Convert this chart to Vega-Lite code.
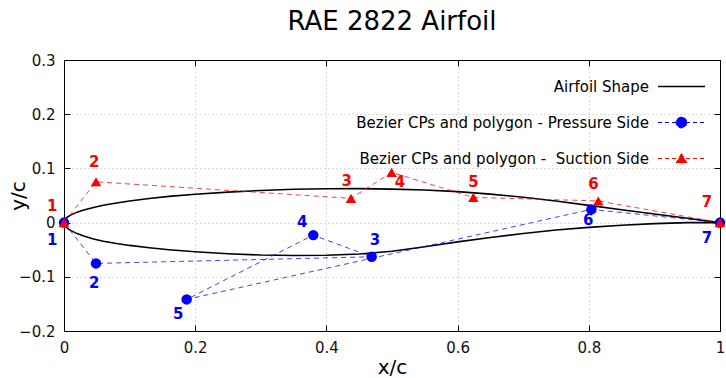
{
  "$schema": "https://vega.github.io/schema/vega-lite/v6.json",
  "width": 656,
  "height": 271,
  "autosize": {"type": "none"},
  "padding": {"left": 64, "top": 60, "right": 6, "bottom": 47},
  "background": "white",
  "title": {"text": "RAE 2822 Airfoil", "font": "DejaVu Sans", "fontSize": 26, "fontWeight": "normal", "anchor": "middle", "offset": 18, "color": "black"},
  "config": {
    "view": {"stroke": "black", "strokeWidth": 1},
    "font": "DejaVu Sans",
    "axis": {
      "domainColor": "black",
      "tickColor": "black",
      "tickSize": -6,
      "labelPadding": 15,
      "labelFont": "DejaVu Sans",
      "labelFontSize": 15,
      "labelColor": "#111",
      "titleFont": "DejaVu Sans",
      "titleFontSize": 20,
      "titleFontWeight": "normal",
      "titleColor": "black",
      "gridColor": "#b8b8b8",
      "gridDash": [1, 3],
      "gridWidth": 1
    }
  },
  "datasets": {
    "airfoil": [
      {"x": 1.0, "y": 0.0, "o": 1, "series": "Airfoil Shape"},
      {"x": 0.95, "y": 0.008, "o": 2, "series": "Airfoil Shape"},
      {"x": 0.9, "y": 0.016, "o": 3, "series": "Airfoil Shape"},
      {"x": 0.85, "y": 0.0238, "o": 4, "series": "Airfoil Shape"},
      {"x": 0.8, "y": 0.0318, "o": 5, "series": "Airfoil Shape"},
      {"x": 0.75, "y": 0.0398, "o": 6, "series": "Airfoil Shape"},
      {"x": 0.7, "y": 0.0467, "o": 7, "series": "Airfoil Shape"},
      {"x": 0.65, "y": 0.0526, "o": 8, "series": "Airfoil Shape"},
      {"x": 0.6, "y": 0.0571, "o": 9, "series": "Airfoil Shape"},
      {"x": 0.55, "y": 0.0601, "o": 10, "series": "Airfoil Shape"},
      {"x": 0.5, "y": 0.0618, "o": 11, "series": "Airfoil Shape"},
      {"x": 0.45, "y": 0.0626, "o": 12, "series": "Airfoil Shape"},
      {"x": 0.4, "y": 0.0625, "o": 13, "series": "Airfoil Shape"},
      {"x": 0.35, "y": 0.0614, "o": 14, "series": "Airfoil Shape"},
      {"x": 0.3, "y": 0.0593, "o": 15, "series": "Airfoil Shape"},
      {"x": 0.25, "y": 0.0563, "o": 16, "series": "Airfoil Shape"},
      {"x": 0.2, "y": 0.0523, "o": 17, "series": "Airfoil Shape"},
      {"x": 0.16, "y": 0.0483, "o": 18, "series": "Airfoil Shape"},
      {"x": 0.13, "y": 0.0445, "o": 19, "series": "Airfoil Shape"},
      {"x": 0.1, "y": 0.0399, "o": 20, "series": "Airfoil Shape"},
      {"x": 0.08, "y": 0.0362, "o": 21, "series": "Airfoil Shape"},
      {"x": 0.06, "y": 0.0319, "o": 22, "series": "Airfoil Shape"},
      {"x": 0.045, "y": 0.028, "o": 23, "series": "Airfoil Shape"},
      {"x": 0.03, "y": 0.0233, "o": 24, "series": "Airfoil Shape"},
      {"x": 0.02, "y": 0.0193, "o": 25, "series": "Airfoil Shape"},
      {"x": 0.01, "y": 0.0138, "o": 26, "series": "Airfoil Shape"},
      {"x": 0.005, "y": 0.0099, "o": 27, "series": "Airfoil Shape"},
      {"x": 0.002, "y": 0.0063, "o": 28, "series": "Airfoil Shape"},
      {"x": 0.0, "y": 0.0, "o": 29, "series": "Airfoil Shape"},
      {"x": 0.002, "y": -0.0063, "o": 30, "series": "Airfoil Shape"},
      {"x": 0.005, "y": -0.0101, "o": 31, "series": "Airfoil Shape"},
      {"x": 0.01, "y": -0.0143, "o": 32, "series": "Airfoil Shape"},
      {"x": 0.02, "y": -0.0203, "o": 33, "series": "Airfoil Shape"},
      {"x": 0.03, "y": -0.0247, "o": 34, "series": "Airfoil Shape"},
      {"x": 0.045, "y": -0.0302, "o": 35, "series": "Airfoil Shape"},
      {"x": 0.06, "y": -0.0343, "o": 36, "series": "Airfoil Shape"},
      {"x": 0.08, "y": -0.0386, "o": 37, "series": "Airfoil Shape"},
      {"x": 0.1, "y": -0.0421, "o": 38, "series": "Airfoil Shape"},
      {"x": 0.13, "y": -0.0465, "o": 39, "series": "Airfoil Shape"},
      {"x": 0.16, "y": -0.0501, "o": 40, "series": "Airfoil Shape"},
      {"x": 0.2, "y": -0.0539, "o": 41, "series": "Airfoil Shape"},
      {"x": 0.25, "y": -0.0575, "o": 42, "series": "Airfoil Shape"},
      {"x": 0.3, "y": -0.0598, "o": 43, "series": "Airfoil Shape"},
      {"x": 0.35, "y": -0.0607, "o": 44, "series": "Airfoil Shape"},
      {"x": 0.4, "y": -0.0602, "o": 45, "series": "Airfoil Shape"},
      {"x": 0.45, "y": -0.0578, "o": 46, "series": "Airfoil Shape"},
      {"x": 0.5, "y": -0.053, "o": 47, "series": "Airfoil Shape"},
      {"x": 0.55, "y": -0.0445, "o": 48, "series": "Airfoil Shape"},
      {"x": 0.6, "y": -0.0355, "o": 49, "series": "Airfoil Shape"},
      {"x": 0.65, "y": -0.0275, "o": 50, "series": "Airfoil Shape"},
      {"x": 0.7, "y": -0.0200, "o": 51, "series": "Airfoil Shape"},
      {"x": 0.75, "y": -0.0137, "o": 52, "series": "Airfoil Shape"},
      {"x": 0.8, "y": -0.0088, "o": 53, "series": "Airfoil Shape"},
      {"x": 0.85, "y": -0.0048, "o": 54, "series": "Airfoil Shape"},
      {"x": 0.9, "y": -0.0018, "o": 55, "series": "Airfoil Shape"},
      {"x": 0.95, "y": 0.0, "o": 56, "series": "Airfoil Shape"},
      {"x": 1.0, "y": 0.0, "o": 57, "series": "Airfoil Shape"}
    ],
    "cps": [
      {"i": 1, "x": 0.0, "y": 0.0, "lx": -0.018, "ly": -0.0323, "series": "Bezier CPs and polygon - Pressure Side"},
      {"i": 2, "x": 0.0488, "y": -0.0753, "lx": 0.046, "ly": -0.1116, "series": "Bezier CPs and polygon - Pressure Side"},
      {"i": 3, "x": 0.469, "y": -0.0631, "lx": 0.474, "ly": -0.0323, "series": "Bezier CPs and polygon - Pressure Side"},
      {"i": 4, "x": 0.38, "y": -0.0231, "lx": 0.363, "ly": 0.0018, "series": "Bezier CPs and polygon - Pressure Side"},
      {"i": 5, "x": 0.187, "y": -0.1417, "lx": 0.174, "ly": -0.1688, "series": "Bezier CPs and polygon - Pressure Side"},
      {"i": 6, "x": 0.804, "y": 0.0244, "lx": 0.799, "ly": 0.0046, "series": "Bezier CPs and polygon - Pressure Side"},
      {"i": 7, "x": 1.0, "y": 0.0, "lx": 0.98, "ly": -0.0286, "series": "Bezier CPs and polygon - Pressure Side"},
      {"i": 1, "x": 0.0, "y": 0.0, "lx": -0.018, "ly": 0.031, "series": "Bezier CPs and polygon -  Suction Side"},
      {"i": 2, "x": 0.0488, "y": 0.0753, "lx": 0.046, "ly": 0.1125, "series": "Bezier CPs and polygon -  Suction Side"},
      {"i": 3, "x": 0.4375, "y": 0.0447, "lx": 0.431, "ly": 0.0766, "series": "Bezier CPs and polygon -  Suction Side"},
      {"i": 4, "x": 0.4995, "y": 0.0926, "lx": 0.512, "ly": 0.0754, "series": "Bezier CPs and polygon -  Suction Side"},
      {"i": 5, "x": 0.624, "y": 0.0465, "lx": 0.624, "ly": 0.0754, "series": "Bezier CPs and polygon -  Suction Side"},
      {"i": 6, "x": 0.8145, "y": 0.040, "lx": 0.807, "ly": 0.0716, "series": "Bezier CPs and polygon -  Suction Side"},
      {"i": 7, "x": 1.0, "y": 0.0, "lx": 0.98, "ly": 0.0384, "series": "Bezier CPs and polygon -  Suction Side"}
    ]
  },
  "resolve": {"axis": {"x": "independent", "y": "independent"}},
  "layer": [
    {
      "data": {"name": "airfoil"},
      "mark": {"type": "line", "strokeWidth": 1.6, "clip": true},
      "encoding": {
        "x": {"field": "x", "type": "quantitative", "scale": {"domain": [0, 1], "nice": false, "zero": false},
              "axis": {"title": "x/c", "values": [0, 0.2, 0.4, 0.6, 0.8, 1], "format": "~g", "grid": true, "titleY": 42, "titleBaseline": "alphabetic", "labelFlush": false}},
        "y": {"field": "y", "type": "quantitative", "scale": {"domain": [-0.2, 0.3], "nice": false, "zero": false},
              "axis": {"title": "y/c", "values": [-0.2, -0.1, 0, 0.1, 0.2, 0.3], "format": "~g", "grid": true, "titleX": -36, "titleY": 135.5, "titleBaseline": "bottom", "titleAngle": 270, "labelFlush": false}},
        "order": {"field": "o", "type": "quantitative"},
        "color": {
          "field": "series", "type": "nominal",
          "scale": {"domain": ["Airfoil Shape", "Bezier CPs and polygon - Pressure Side", "Bezier CPs and polygon -  Suction Side"], "range": ["black", "#0000ff", "#ff0000"]},
          "legend": {
            "orient": "none", "legendX": 610, "legendY": 19,
            "title": null,
            "labelAlign": "right", "labelOffset": -40,
            "labelExpr": "replace(datum.label, '-  S', '- \u00a0S')",
            "labelFont": "DejaVu Sans", "labelFontSize": 15, "labelColor": "black", "labelLimit": 500,
            "symbolSize": 2209,
            "rowPadding": 20,
            "encode": {
              "symbols": {
                "update": {
                  "shape": {"signal": "datum.value == 'Airfoil Shape' ? 'M-1,0H1' : (indexof(datum.value, 'Pressure') >= 0 ? 'M-1,0H1M0.23,0A0.23,0.23 0 1,1 -0.23,0A0.23,0.23 0 1,1 0.23,0Z' : 'M-1,0H1M0,-0.21L0.23,0.19L-0.23,0.19Z')"},
                  "strokeDash": {"signal": "datum.value == 'Airfoil Shape' ? [] : [4, 3]"},
                  "stroke": {"signal": "scale('color', datum.value)"},
                  "fill": {"signal": "scale('color', datum.value)"},
                  "strokeWidth": {"signal": "datum.value == 'Airfoil Shape' ? 1.6 : 1"},
                  "opacity": {"value": 1}
                }
              }
            }
          }
        }
      }
    },
    {
      "data": {"name": "cps"},
      "mark": {"type": "line", "strokeWidth": 1, "strokeDash": [5, 4], "opacity": 0.75},
      "encoding": {
        "x": {"field": "x", "type": "quantitative", "axis": {"orient": "top", "labels": false, "grid": false, "title": null, "values": [0, 0.2, 0.4, 0.6, 0.8, 1]}},
        "y": {"field": "y", "type": "quantitative", "axis": {"orient": "right", "labels": false, "grid": false, "title": null, "values": [-0.2, -0.1, 0, 0.1, 0.2, 0.3]}},
        "order": {"field": "i", "type": "quantitative"},
        "color": {"field": "series", "type": "nominal"}
      }
    },
    {
      "data": {"name": "cps"},
      "mark": {"type": "point", "filled": true, "opacity": 1, "size": 110},
      "encoding": {
        "x": {"field": "x", "type": "quantitative", "axis": null},
        "y": {"field": "y", "type": "quantitative", "axis": null},
        "color": {"field": "series", "type": "nominal"},
        "shape": {"field": "series", "type": "nominal", "legend": null,
                  "scale": {"domain": ["Bezier CPs and polygon - Pressure Side", "Bezier CPs and polygon -  Suction Side"], "range": ["circle", "triangle-up"]}}
      }
    },
    {
      "data": {"name": "cps"},
      "mark": {"type": "text", "font": "DejaVu Sans", "fontSize": 15, "fontWeight": "bold", "baseline": "middle", "align": "center"},
      "encoding": {
        "x": {"field": "lx", "type": "quantitative", "axis": null},
        "y": {"field": "ly", "type": "quantitative", "axis": null},
        "text": {"field": "i", "type": "quantitative"},
        "color": {"field": "series", "type": "nominal"}
      }
    }
  ]
}
